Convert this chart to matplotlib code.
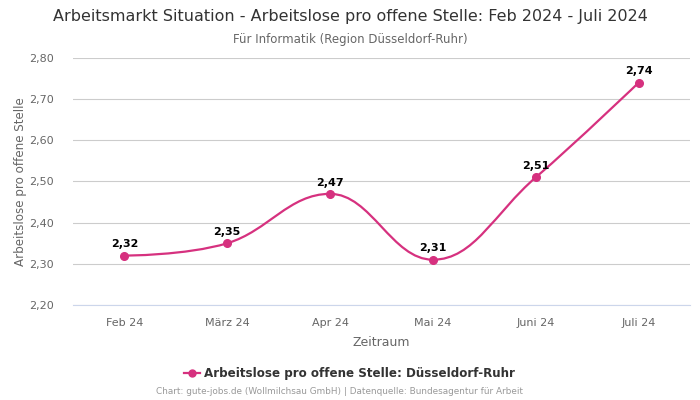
import numpy as np
import matplotlib.pyplot as plt
from matplotlib.path import Path
from matplotlib.patches import PathPatch

# data
months = ['Feb 24', 'März 24', 'Apr 24', 'Mai 24', 'Juni 24', 'Juli 24']
values = [2.32, 2.35, 2.47, 2.31, 2.51, 2.74]
yticks = [2.20, 2.30, 2.40, 2.50, 2.60, 2.70, 2.80]

col = '#d6317f'


def spline_path(xs, ys, smooth=1.5):
    # highcharts style spline control points
    n = len(xs)
    left = [None] * n
    right = [None] * n
    for i in range(n):
        if i == 0 or i == n - 1:
            left[i] = (xs[i], ys[i])
            right[i] = (xs[i], ys[i])
            continue
        d = smooth + 1
        lx = (smooth * xs[i] + xs[i - 1]) / d
        ly = (smooth * ys[i] + ys[i - 1]) / d
        rx = (smooth * xs[i] + xs[i + 1]) / d
        ry = (smooth * ys[i] + ys[i + 1]) / d
        if rx != lx:
            corr = (ry - ly) * (rx - xs[i]) / (rx - lx) + ys[i] - ry
            ly += corr
            ry += corr
        if ly > max(ys[i - 1], ys[i]):
            ly = max(ys[i - 1], ys[i])
            ry = 2 * ys[i] - ly
        elif ly < min(ys[i - 1], ys[i]):
            ly = min(ys[i - 1], ys[i])
            ry = 2 * ys[i] - ly
        if ry > max(ys[i + 1], ys[i]):
            ry = max(ys[i + 1], ys[i])
            ly = 2 * ys[i] - ry
        elif ry < min(ys[i + 1], ys[i]):
            ry = min(ys[i + 1], ys[i])
            ly = 2 * ys[i] - ry
        left[i] = (lx, ly)
        right[i] = (rx, ry)
    verts = [(xs[0], ys[0])]
    codes = [Path.MOVETO]
    for i in range(1, n):
        verts += [right[i - 1], left[i], (xs[i], ys[i])]
        codes += [Path.CURVE4] * 3
    return Path(verts, codes)


fig = plt.figure(figsize=(7, 4), dpi=100)
ax = fig.add_axes([73 / 700, 1 - 305 / 400, 617 / 700, 247 / 400])

x = np.arange(len(months))
ax.add_patch(PathPatch(spline_path(list(x), values), fc='none', ec=col, lw=1.6, zorder=3))
ax.plot(x, values, 'o', color=col, ms=5.5, zorder=4)

for xi, v in zip(x, values):
    ax.annotate(('%.2f' % v).replace('.', ','), (xi, v), xytext=(0, 4.5),
                textcoords='offset points', ha='center', va='bottom',
                fontsize=8, fontweight='bold', color='black')

ax.set_xlim(-0.5, len(months) - 0.5)
ax.set_ylim(2.2, 2.8)
ax.set_yticks(yticks)
ax.set_yticklabels([('%.2f' % t).replace('.', ',') for t in yticks])
ax.set_xticks(x)
ax.set_xticklabels(months)
ax.tick_params(axis='both', length=0, labelsize=8, colors='#666666')
ax.tick_params(axis='x', pad=9)
ax.tick_params(axis='y', pad=14)
ax.grid(axis='y', color='#cccccc', lw=0.8)
for s in ['top', 'right', 'left']:
    ax.spines[s].set_visible(False)
ax.spines['bottom'].set_color('#ccd6eb')
ax.spines['bottom'].set_linewidth(0.8)
ax.set_axisbelow(True)

ax.set_xlabel('Zeitraum', fontsize=9, color='#666666', labelpad=6)
ax.set_ylabel('Arbeitslose pro offene Stelle', fontsize=8.6, color='#666666', labelpad=1)

fig.text(0.5, 1 - 17 / 400, 'Arbeitsmarkt Situation - Arbeitslose pro offene Stelle: Feb 2024 - Juli 2024',
         ha='center', va='center', fontsize=11.5, color='#333333')
fig.text(0.5, 1 - 39 / 400, 'Für Informatik (Region Düsseldorf-Ruhr)',
         ha='center', va='center', fontsize=8.5, color='#666666')

# legend
fig.lines.append(plt.Line2D([184 / 700, 200 / 700], [1 - 373 / 400] * 2, color=col, lw=1.6,
                            transform=fig.transFigure))
fig.lines.append(plt.Line2D([192 / 700], [1 - 373 / 400], color=col, marker='o', ms=5,
                            transform=fig.transFigure))
fig.text(204 / 700, 1 - 373 / 400, 'Arbeitslose pro offene Stelle: Düsseldorf-Ruhr',
         ha='left', va='center', fontsize=8.6, fontweight='bold', color='#333333')
fig.text(340 / 700, 1 - 392 / 400, 'Chart: gute-jobs.de (Wollmilchsau GmbH) | Datenquelle: Bundesagentur für Arbeit',
         ha='center', va='center', fontsize=6.4, color='#999999')

fig.savefig('out.png', dpi=100)
